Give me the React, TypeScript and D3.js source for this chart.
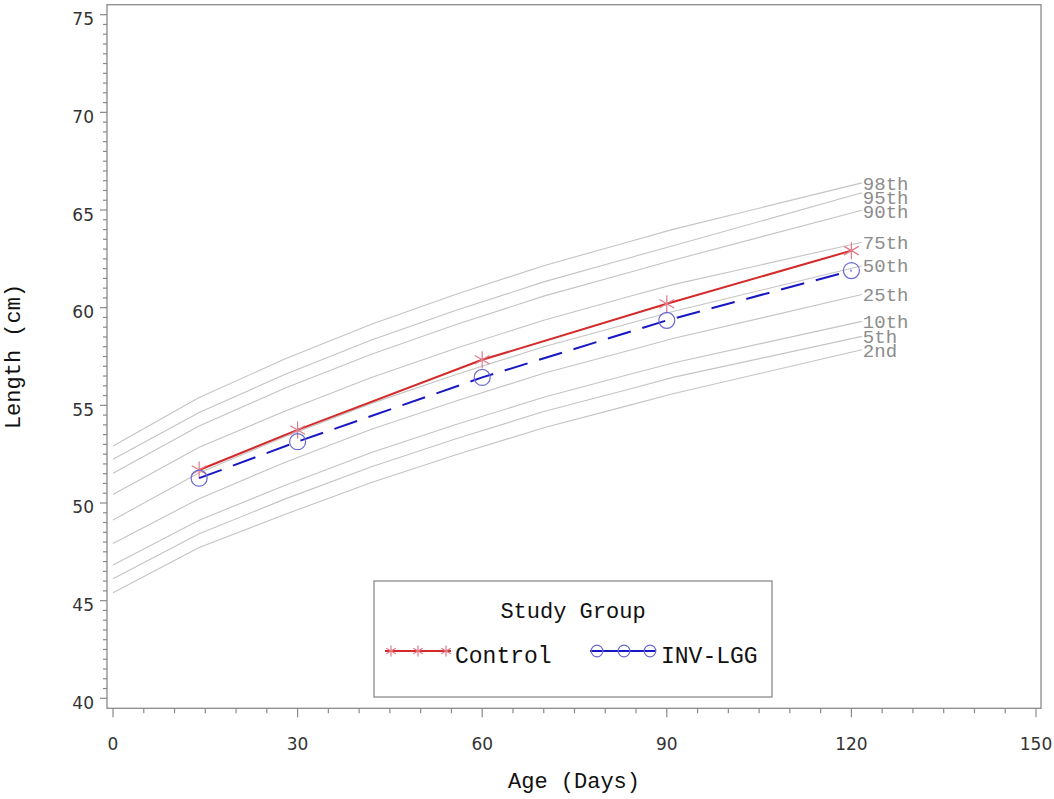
import * as d3 from "d3";
import React from "react";

// WHO-style length-for-age reference curves
const refDays = [0, 14, 28, 42, 56, 70, 84, 91, 121.7];
const pctNames = ["98th", "95th", "90th", "75th", "50th", "25th", "10th", "5th", "2nd"];
const p98 = [52.92, 55.4, 57.38, 59.15, 60.71, 62.15, 63.39, 64.01, 66.39];
const p95 = [52.24, 54.63, 56.59, 58.34, 59.89, 61.32, 62.56, 63.17, 65.88];
const p90 = [51.52, 53.94, 55.89, 57.62, 59.16, 60.59, 61.81, 62.43, 64.99];
const p75 = [50.43, 52.85, 54.71, 56.43, 57.95, 59.36, 60.58, 61.18, 63.35];
const p50 = [49.13, 51.55, 53.4, 55.1, 56.6, 58.0, 59.2, 59.8, 62.15];
const p25 = [47.93, 50.22, 52.09, 53.77, 55.25, 56.64, 57.82, 58.42, 60.67];
const p10 = [46.82, 49.12, 50.91, 52.58, 54.04, 55.41, 56.59, 57.17, 59.3];
const p5 = [46.12, 48.42, 50.21, 51.86, 53.31, 54.68, 55.84, 56.43, 58.53];
const p2 = [45.4, 47.72, 49.42, 51.05, 52.49, 53.85, 55.01, 55.59, 57.85];
const pctValues = [p98, p95, p90, p75, p50, p25, p10, p5, p2];

// study groups
const visitDays = [14, 30, 60, 90, 120];
const controlLen = [51.69, 53.74, 57.33, 60.2, 62.92];
const lggLen = [51.27, 53.14, 56.43, 59.35, 61.9];

const W = 1054;
const H = 799;
const frame = { left: 107, right: 1041, top: 4.7, bottom: 708.3 };
const MONO = "'Liberation Mono', 'DejaVu Sans Mono', monospace";
const SANS = "'DejaVu Sans', sans-serif";

const x = d3.scaleLinear().domain([0, 150]).range([113, 1036]);
const y = d3.scaleLinear().domain([40, 75]).range([698.3, 14.7]);

const xMajor = d3.range(0, 151, 30);
const xMinor = d3.range(0, 151, 5).filter((d) => d % 30 !== 0);
const yMajor = d3.range(40, 76, 5);
const yMinor = d3.range(40, 75.01, 0.5).filter((d) => d % 5 !== 0);

const line = d3
  .line<[number, number]>()
  .x((d) => x(d[0]))
  .y((d) => y(d[1]));

// six-armed asterisk like the SAS "star" symbol
function starPath(cx: number, cy: number, r: number) {
  const a = Math.cos(Math.PI / 6) * r;
  const b = Math.sin(Math.PI / 6) * r;
  return `M${cx},${cy - r}L${cx},${cy + r}M${cx - a},${cy - b}L${cx + a},${cy + b}M${cx - a},${cy + b}L${cx + a},${cy - b}`;
}

// push curve labels apart so they stack like the original
function labelYs(): number[] {
  const gap = 14;
  const ys = pctValues.map((v) => y(v[v.length - 1]));
  for (let i = 1; i < ys.length; i++) {
    if (ys[i] - ys[i - 1] < gap) ys[i] = ys[i - 1] + gap;
  }
  return ys;
}

const App: React.FC = () => {
  const control = visitDays.map((d, i) => [d, controlLen[i]] as [number, number]);
  const lgg = visitDays.map((d, i) => [d, lggLen[i]] as [number, number]);
  const lys = labelYs();
  const labelX = x(refDays[refDays.length - 1]) + 1;

  return (
    <svg
      width={W}
      height={H}
      viewBox={`0 0 ${W} ${H}`}
      style={{ position: "absolute", left: 0, top: 0, background: "#fff" }}
    >
      <rect x={0} y={0} width={W} height={H} fill="#fff" />

      {/* percentile curves */}
      <g>
        {pctValues.map((vals, i) => {
          const pts = refDays.map((d, j) => [d, vals[j]] as [number, number]);
          return (
            <g key={pctNames[i]}>
              <path d={line(pts) || ""} fill="none" stroke="#c4c4c4" strokeWidth={1.1} />
              <text
                x={labelX}
                y={lys[i]}
                dy="0.35em"
                fontFamily={MONO}
                fontSize={19}
                fill="#8c8c8c"
              >
                {pctNames[i]}
              </text>
            </g>
          );
        })}
      </g>

      {/* Control */}
      <path d={line(control) || ""} fill="none" stroke="#d42a2a" strokeWidth={2} />
      {control.map((d, i) => (
        <path key={i} d={starPath(x(d[0]), y(d[1]), 8.5)} stroke="#e27a88" strokeWidth={1.2} fill="none" />
      ))}

      {/* INV-LGG */}
      <path
        d={line(lgg) || ""}
        fill="none"
        stroke="#1717c4"
        strokeWidth={2}
        strokeDasharray="24 12"
      />
      {lgg.map((d, i) => (
        <circle key={i} cx={x(d[0])} cy={y(d[1])} r={8} fill="none" stroke="#6a6ad4" strokeWidth={1.2} />
      ))}

      {/* frame */}
      <rect
        x={frame.left}
        y={frame.top}
        width={frame.right - frame.left}
        height={frame.bottom - frame.top}
        fill="none"
        stroke="#8a8a8a"
        strokeWidth={1.3}
      />

      {/* y axis */}
      <g stroke="#8a8a8a" strokeWidth={1.2}>
        {yMajor.map((v) => (
          <line key={v} x1={frame.left - 7} x2={frame.left} y1={y(v)} y2={y(v)} />
        ))}
        {yMinor.map((v) => (
          <line key={v} x1={frame.left - 4} x2={frame.left} y1={y(v)} y2={y(v)} />
        ))}
      </g>
      {yMajor.map((v) => (
        <text
          key={v}
          x={94}
          y={y(v) + 10.5}
          textAnchor="end"
          fontFamily={SANS}
          fontSize={17}
          fill="#333"
        >
          {v}
        </text>
      ))}
      <text
        transform={`translate(20, ${(frame.top + frame.bottom) / 2}) rotate(-90)`}
        textAnchor="middle"
        fontFamily={MONO}
        fontSize={22}
        fill="#111"
      >
        Length (cm)
      </text>

      {/* x axis */}
      <g stroke="#8a8a8a" strokeWidth={1.2}>
        {xMajor.map((v) => (
          <line key={v} x1={x(v)} x2={x(v)} y1={frame.bottom} y2={frame.bottom + 9} />
        ))}
        {xMinor.map((v) => (
          <line key={v} x1={x(v)} x2={x(v)} y1={frame.bottom} y2={frame.bottom + 5} />
        ))}
      </g>
      {xMajor.map((v) => (
        <text
          key={v}
          x={x(v)}
          y={749.5}
          textAnchor="middle"
          fontFamily={SANS}
          fontSize={17}
          fill="#333"
        >
          {v}
        </text>
      ))}
      <text
        x={(frame.left + frame.right) / 2}
        y={788}
        textAnchor="middle"
        fontFamily={MONO}
        fontSize={22}
        fill="#111"
      >
        Age (Days)
      </text>

      {/* legend */}
      <g>
        <rect x={374} y={581} width={398} height={116} fill="#fff" stroke="#8a8a8a" strokeWidth={1.3} />
        <text x={573} y={618} textAnchor="middle" fontFamily={MONO} fontSize={22} fill="#111">
          Study Group
        </text>
        <line x1={385} x2={451} y1={651} y2={651} stroke="#d42a2a" strokeWidth={2} />
        {[391, 418, 446].map((cx) => (
          <path key={cx} d={starPath(cx, 651, 5.5)} stroke="#e27a88" strokeWidth={1.2} fill="none" />
        ))}
        <text x={455} y={663} fontFamily={MONO} fontSize={23} fill="#111">
          Control
        </text>
        <line x1={590} x2={656} y1={651} y2={651} stroke="#1717c4" strokeWidth={2} />
        {[597, 624, 650].map((cx) => (
          <circle key={cx} cx={cx} cy={651} r={5.8} fill="none" stroke="#6a6ad4" strokeWidth={1.2} />
        ))}
        <text x={661} y={663} fontFamily={MONO} fontSize={23} fill="#111">
          INV-LGG
        </text>
      </g>
    </svg>
  );
};

export default App;
